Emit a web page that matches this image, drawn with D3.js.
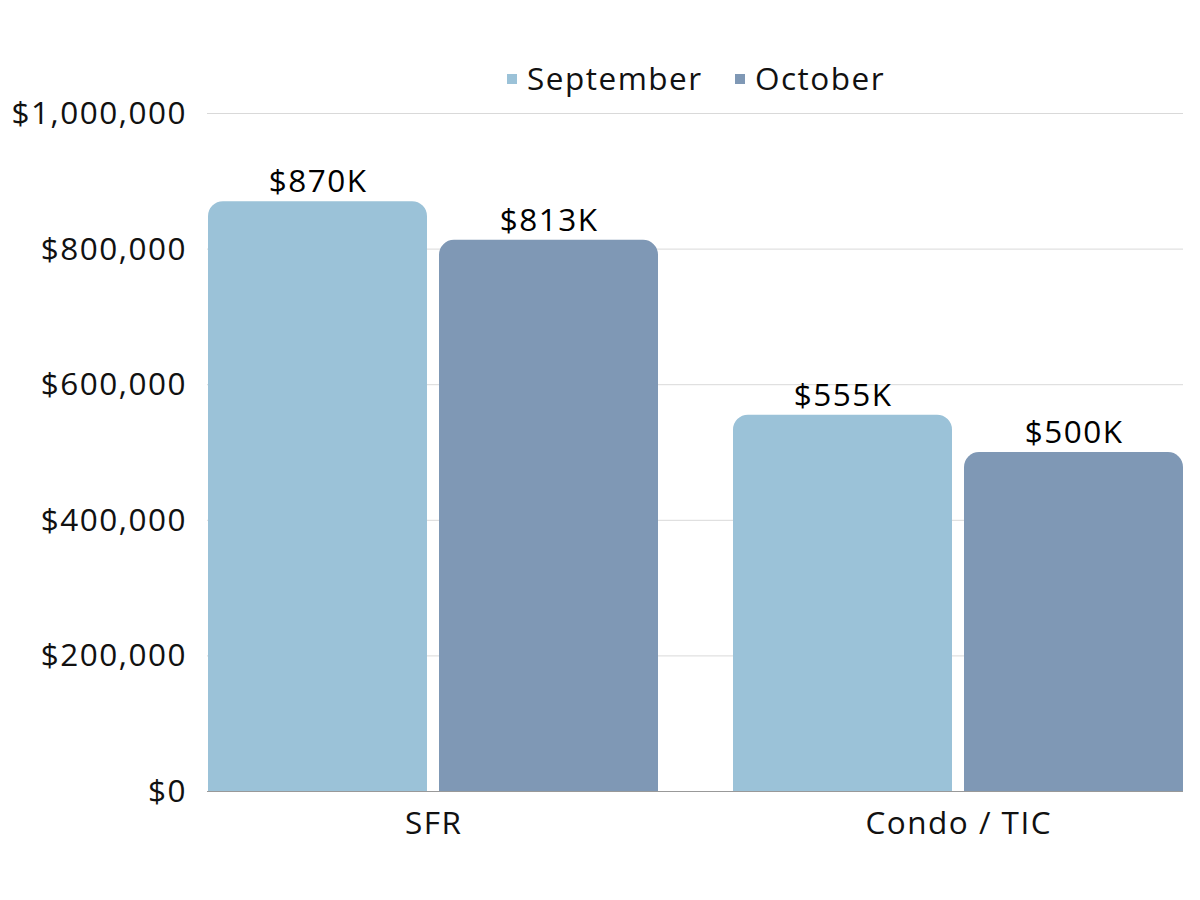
<!DOCTYPE html>
<html>
<head>
<meta charset="utf-8">
<script src="https://cdn.jsdelivr.net/npm/d3@7"></script>
<style>
  html, body { margin: 0; padding: 0; background: #fff; }
  svg { display: block; }
  svg text { font-family: "Open Sans", "DejaVu Sans", sans-serif; letter-spacing: 1.5px; }
</style>
</head>
<body>
<svg id="chart" width="1200" height="900"></svg>
<script>
const categories = ["SFR", "Condo / TIC"];
const seriesNames = ["September", "October"];
const september = [870000, 555000];
const october = [813000, 500000];
const valueLabels = [["$870K", "$813K"], ["$555K", "$500K"]];
const yTicks = [0, 200000, 400000, 600000, 800000, 1000000];
const colors = ["#9BC2D8", "#7F98B5"];

const svg = d3.select("#chart");
const plot = { left: 208, right: 1183, top: 113, bottom: 791 };
const FS = 31.5;

const x0 = d3.scaleBand().domain(categories).range([plot.left, plot.right]).paddingInner(75 / 525).paddingOuter(0);
const x1 = d3.scaleBand().domain(seriesNames).range([0, x0.bandwidth()]).paddingInner(12 / 231).paddingOuter(0);
const y = d3.scaleLinear().domain([0, 1000000]).range([plot.bottom, plot.top]);

const fmt = d3.format("$,");

// gridlines
svg.append("g").selectAll("line").data(yTicks.filter(d => d > 0)).join("line")
  .attr("x1", plot.left - 1).attr("x2", plot.right)
  .attr("y1", d => y(d) + 0.5).attr("y2", d => y(d) + 0.5)
  .attr("stroke", "#d9d9d9").attr("stroke-width", 1);

// y axis labels
const yAxis = d3.axisLeft(y).tickValues(yTicks).tickFormat(fmt).tickSize(0).tickPadding(21);
const ya = svg.append("g").attr("transform", `translate(${plot.left},0)`).call(yAxis)
  .attr("font-family", null).attr("font-size", null);
ya.select(".domain").remove();
ya.selectAll("text").attr("font-size", FS).attr("fill", "#111").attr("dy", "0.33em");

const data = categories.map((c, i) => ({ cat: c, vals: [september[i], october[i]] }));

function topRounded(x, yTop, w, h, r) {
  r = Math.min(r, w / 2, h);
  const p = d3.path();
  p.moveTo(x, yTop + h);
  p.lineTo(x, yTop + r);
  p.arcTo(x, yTop, x + r, yTop, r);
  p.lineTo(x + w - r, yTop);
  p.arcTo(x + w, yTop, x + w, yTop + r, r);
  p.lineTo(x + w, yTop + h);
  p.closePath();
  return p.toString();
}

const groups = svg.append("g").selectAll("g").data(data).join("g")
  .attr("transform", d => `translate(${x0(d.cat)},0)`);

groups.selectAll("path").data((d, i) => d.vals.map((v, j) => ({ v, s: seriesNames[j], j, i }))).join("path")
  .attr("d", d => topRounded(x1(d.s), y(d.v), x1.bandwidth(), plot.bottom - y(d.v), 15))
  .attr("fill", d => colors[d.j]);

groups.selectAll("text").data((d, i) => d.vals.map((v, j) => ({ v, s: seriesNames[j], j, i }))).join("text")
  .attr("x", d => x1(d.s) + x1.bandwidth() / 2 + 0.75)
  .attr("y", d => y(d.v) - 9)
  .attr("text-anchor", "middle")
  .attr("font-size", FS).attr("fill", "#000")
  .text(d => valueLabels[d.i][d.j]);

// x axis
const xAxis = d3.axisBottom(x0).tickSize(0).tickPadding(21);
const xa = svg.append("g").attr("transform", `translate(0,${plot.bottom})`).call(xAxis)
  .attr("font-family", null).attr("font-size", null);
xa.select(".domain").attr("d", `M${plot.left - 1},0.5H${plot.right}`).attr("stroke", "#999").attr("stroke-width", 1);
xa.selectAll("text").attr("font-size", FS).attr("fill", "#111").attr("dy", "0.71em").attr("dx", 0.75);

// legend
const legend = svg.append("g");
const legendItems = [{ name: seriesNames[0], x: 507 }, { name: seriesNames[1], x: 735 }];
legendItems.forEach((it, k) => {
  legend.append("rect").attr("x", it.x).attr("y", 74).attr("width", 10).attr("height", 10).attr("fill", colors[k]);
  legend.append("text").attr("x", it.x + 20).attr("y", 90).attr("font-size", FS).attr("fill", "#111").text(it.name);
});
</script>
</body>
</html>
